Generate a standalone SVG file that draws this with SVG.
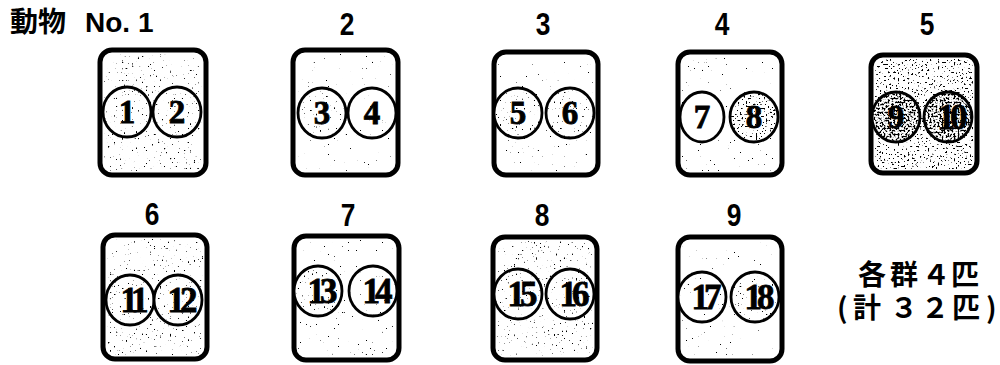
<svg xmlns="http://www.w3.org/2000/svg" width="1000" height="365" viewBox="0 0 1000 365">
<style>
.box{fill:#fff;stroke:#000;stroke-width:5}
.ring{fill:#fff;stroke:#000;stroke-width:2.8}
.sp{fill:#000;stroke:none}
.num{font-family:'Liberation Serif',serif;font-weight:bold;font-size:33px;text-anchor:middle;fill:#000;stroke:#000;stroke-width:0.8}
.n2{font-size:35px;letter-spacing:-5px}
.lbl{font-family:'Liberation Sans',sans-serif;font-weight:bold;font-size:31px;text-anchor:middle;fill:#000}
.jp{font-family:'Noto Sans CJK JP','Liberation Sans',sans-serif;font-weight:bold;font-size:28px;fill:#000}
</style>
<defs>
<filter id="spkL" x="0" y="0" width="1" height="1" color-interpolation-filters="sRGB">
<feTurbulence type="fractalNoise" baseFrequency="0.5" numOctaves="3" seed="3"/>
<feColorMatrix type="matrix" values="0 0 0 0 0 0 0 0 0 0 0 0 0 0 0 20 0 0 0 -14.9"/>
<feComposite operator="in" in2="SourceAlpha"/>
</filter>
<filter id="spkM" x="0" y="0" width="1" height="1" color-interpolation-filters="sRGB">
<feTurbulence type="fractalNoise" baseFrequency="0.5" numOctaves="3" seed="7"/>
<feColorMatrix type="matrix" values="0 0 0 0 0 0 0 0 0 0 0 0 0 0 0 20 0 0 0 -13.9"/>
<feComposite operator="in" in2="SourceAlpha"/>
</filter>
<filter id="spkH" x="0" y="0" width="1" height="1" color-interpolation-filters="sRGB">
<feTurbulence type="fractalNoise" baseFrequency="0.5" numOctaves="3" seed="11"/>
<feColorMatrix type="matrix" values="0 0 0 0 0 0 0 0 0 0 0 0 0 0 0 16 0 0 0 -10.2"/>
<feComposite operator="in" in2="SourceAlpha"/>
</filter>
<filter id="spkX" x="0" y="0" width="1" height="1" color-interpolation-filters="sRGB">
<feTurbulence type="fractalNoise" baseFrequency="0.5" numOctaves="3" seed="5"/>
<feColorMatrix type="matrix" values="0 0 0 0 0 0 0 0 0 0 0 0 0 0 0 12 0 0 0 -5.8"/>
<feComposite operator="in" in2="SourceAlpha"/>
</filter>
</defs>
<rect width="1000" height="365" fill="#fff"/>

<g id="title">
<text class="jp" x="10" y="32" font-size="29"><tspan>動物</tspan><tspan x="85" font-family="'Liberation Sans',sans-serif" font-size="28">No. 1</tspan></text>
</g>

<g id="animal1">
<rect class="box" x="100" y="50" width="106" height="125" rx="12"/>
<rect class="sp" x="104" y="54" width="98" height="117" rx="9" filter="url(#spkM)"/>
<ellipse class="ring" cx="127" cy="112" rx="24" ry="25"/>
<ellipse class="sp" cx="127" cy="112" rx="23" ry="24" filter="url(#spkM)"/>
<ellipse class="ring" cx="177" cy="112" rx="24" ry="25"/>
<ellipse class="sp" cx="177" cy="112" rx="23" ry="24" filter="url(#spkM)"/>
<text class="num" x="127" y="123">1</text>
<text class="num" x="177" y="123">2</text>
</g>

<g id="animal2">
<text class="lbl" transform="translate(347 35) scale(0.85 1)">2</text>
<rect class="box" x="293" y="50" width="105" height="125" rx="12"/>
<rect class="sp" x="297" y="54" width="97" height="117" rx="9" filter="url(#spkL)"/>
<ellipse class="ring" cx="322" cy="113" rx="24" ry="25"/>
<ellipse class="sp" cx="322" cy="113" rx="23" ry="24" filter="url(#spkM)"/>
<ellipse class="ring" cx="372" cy="113" rx="24" ry="25"/>
<ellipse class="sp" cx="372" cy="113" rx="23" ry="24" filter="url(#spkL)"/>
<text class="num" x="322" y="124">3</text>
<text class="num" x="372" y="124">4</text>
</g>

<g id="animal3">
<text class="lbl" transform="translate(543 35) scale(0.85 1)">3</text>
<rect class="box" x="494" y="52" width="104" height="123" rx="12"/>
<rect class="sp" x="498" y="56" width="96" height="115" rx="9" filter="url(#spkL)"/>
<ellipse class="ring" cx="518" cy="113" rx="24" ry="25"/>
<ellipse class="sp" cx="518" cy="113" rx="23" ry="24" filter="url(#spkM)"/>
<ellipse class="ring" cx="570" cy="113" rx="24" ry="25"/>
<ellipse class="sp" cx="570" cy="113" rx="23" ry="24" filter="url(#spkM)"/>
<text class="num" x="518" y="124">5</text>
<text class="num" x="570" y="124">6</text>
</g>

<g id="animal4">
<text class="lbl" transform="translate(722 35) scale(0.85 1)">4</text>
<rect class="box" x="678" y="52" width="104" height="123" rx="12"/>
<rect class="sp" x="682" y="56" width="96" height="115" rx="9" filter="url(#spkL)"/>
<ellipse class="ring" cx="702" cy="117" rx="22" ry="25"/>
<ellipse class="ring" cx="754" cy="117" rx="24" ry="25"/>
<ellipse class="sp" cx="754" cy="117" rx="23" ry="24" filter="url(#spkH)"/>
<text class="num" x="702" y="128">7</text>
<text class="num" x="754" y="128">8</text>
</g>

<g id="animal5">
<text class="lbl" transform="translate(927 35) scale(0.85 1)">5</text>
<rect class="box" x="871" y="55" width="106" height="118" rx="12"/>
<rect class="sp" x="875" y="59" width="98" height="110" rx="9" filter="url(#spkH)"/>
<ellipse class="ring" cx="896" cy="117" rx="24" ry="25"/>
<ellipse class="sp" cx="896" cy="117" rx="23" ry="24" filter="url(#spkX)"/>
<ellipse class="ring" cx="948" cy="117" rx="24" ry="25"/>
<ellipse class="sp" cx="948" cy="117" rx="23" ry="24" filter="url(#spkX)"/>
<text class="num" x="896" y="128">9</text>
<text class="num n2" x="950" y="129">10</text>
</g>

<g id="animal6">
<text class="lbl" transform="translate(152 225) scale(0.85 1)">6</text>
<rect class="box" x="103" y="235" width="104" height="124" rx="12"/>
<rect class="sp" x="107" y="239" width="96" height="116" rx="9" filter="url(#spkM)"/>
<ellipse class="ring" cx="130" cy="300" rx="24" ry="25"/>
<ellipse class="sp" cx="130" cy="300" rx="23" ry="24" filter="url(#spkM)"/>
<ellipse class="ring" cx="178" cy="300" rx="24" ry="25"/>
<ellipse class="sp" cx="178" cy="300" rx="23" ry="24" filter="url(#spkM)"/>
<text class="num n2" x="132" y="312">11</text>
<text class="num n2" x="180" y="312">12</text>
</g>

<g id="animal7">
<text class="lbl" transform="translate(348 226) scale(0.85 1)">7</text>
<rect class="box" x="294" y="236" width="105" height="124" rx="12"/>
<rect class="sp" x="298" y="240" width="97" height="116" rx="9" filter="url(#spkL)"/>
<ellipse class="ring" cx="318" cy="291" rx="24" ry="25"/>
<ellipse class="sp" cx="318" cy="291" rx="23" ry="24" filter="url(#spkM)"/>
<ellipse class="ring" cx="373" cy="291" rx="24" ry="25"/>
<ellipse class="sp" cx="373" cy="291" rx="23" ry="24" filter="url(#spkL)"/>
<text class="num n2" x="320" y="303">13</text>
<text class="num n2" x="375" y="303">14</text>
</g>

<g id="animal8">
<text class="lbl" transform="translate(542 226) scale(0.85 1)">8</text>
<rect class="box" x="493" y="237" width="104" height="123" rx="12"/>
<rect class="sp" x="497" y="241" width="96" height="115" rx="9" filter="url(#spkM)"/>
<ellipse class="ring" cx="518" cy="294" rx="24" ry="25"/>
<ellipse class="sp" cx="518" cy="294" rx="23" ry="24" filter="url(#spkM)"/>
<ellipse class="ring" cx="570" cy="294" rx="24" ry="25"/>
<ellipse class="sp" cx="570" cy="294" rx="23" ry="24" filter="url(#spkM)"/>
<text class="num n2" x="520" y="306">15</text>
<text class="num n2" x="572" y="306">16</text>
</g>

<g id="animal9">
<text class="lbl" transform="translate(734 226) scale(0.85 1)">9</text>
<rect class="box" x="678" y="237" width="104" height="124" rx="12"/>
<rect class="sp" x="682" y="241" width="96" height="116" rx="9" filter="url(#spkL)"/>
<ellipse class="ring" cx="702" cy="297" rx="24" ry="25"/>
<ellipse class="sp" cx="702" cy="297" rx="23" ry="24" filter="url(#spkL)"/>
<ellipse class="ring" cx="755" cy="297" rx="24" ry="25"/>
<ellipse class="sp" cx="755" cy="297" rx="23" ry="24" filter="url(#spkM)"/>
<text class="num n2" x="704" y="309">17</text>
<text class="num n2" x="757" y="309">18</text>
</g>

<g id="note">
<text class="jp"><tspan x="858 890 922 951" y="285">各群４匹</tspan><tspan x="837 853 890 921 952 986" y="318">(計３２匹)</tspan></text>
</g>
</svg>
